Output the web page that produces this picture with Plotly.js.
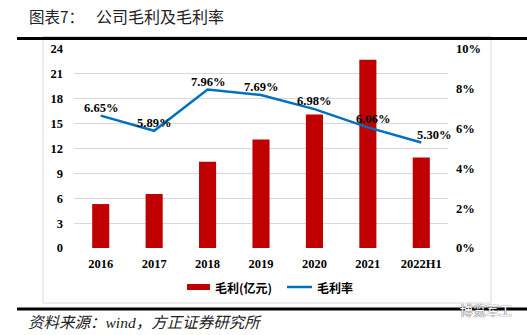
<!DOCTYPE html>
<html>
<head>
<meta charset="utf-8">
<script src="https://cdn.plot.ly/plotly-3.0.1.min.js"></script>
<style>html,body{margin:0;padding:0;background:#fff;}#chart{width:527px;height:335px;}</style>
</head>
<body>
<div id="chart"></div>
<script>
const categories = ["2016", "2017", "2018", "2019", "2020", "2021", "2022H1"];
const grossProfit = [5.3, 6.5, 10.4, 13.1, 16.1, 22.7, 10.9];
const grossMargin = [0.0665, 0.0589, 0.0796, 0.0769, 0.0698, 0.0606, 0.0530];
const marginLabels = ["6.65%", "5.89%", "7.96%", "7.69%", "6.98%", "6.06%", "5.30%"];
const seriesNames = ["毛利(亿元)", "毛利率"];
const titleText = "图表7：";
const titleText2 = "公司毛利及毛利率";
const sourceText = "资料来源：wind，方正证券研究所";
const watermark = "博览军工";

const W = 527, H = 335;
const L = 74, R = 79, T = 49, B = 87;
const pw = W - L - R, ph = H - T - B;
const px = x => (x - L) / pw;
const py = y => (H - B - y) / ph;

const serif = "Liberation Serif, Times New Roman, Noto Sans CJK SC, serif";
const cjk = "Noto Sans CJK SC, sans-serif";

const traces = [
  {type: "bar", x: categories, y: grossProfit, name: seriesNames[0],
   marker: {color: "#C00000"}, yaxis: "y", showlegend: false, hoverinfo: "skip"},
  {type: "scatter", mode: "lines", x: categories, y: grossMargin, name: seriesNames[1],
   line: {color: "#0070C0", width: 2.5}, yaxis: "y2", showlegend: false, hoverinfo: "skip"}
];

// category axis: annotations placed by category index
const annotations = marginLabels.map((t, i) => ({
  x: i, y: grossMargin[i], xref: "x", yref: "y2", text: t, showarrow: false,
  yshift: 8, xshift: i === categories.length - 1 ? 13 : (i === 5 ? 5 : 0),
  font: {family: serif, size: 12.5, color: "#000", weight: "bold"}
}));

annotations.push(
  {xref: "paper", yref: "paper", x: px(27), y: py(16), xanchor: "left", yanchor: "middle",
   text: titleText, showarrow: false, font: {family: cjk, size: 15.5, color: "#222"}},
  {xref: "paper", yref: "paper", x: px(94), y: py(16), xanchor: "left", yanchor: "middle",
   text: titleText2, showarrow: false, font: {family: cjk, size: 16, color: "#222"}},
  {xref: "paper", yref: "paper", x: px(26), y: py(322), xanchor: "left", yanchor: "middle",
   text: sourceText, showarrow: false, font: {family: serif, size: 15.5, color: "#222", style: "italic"}},
  {xref: "paper", yref: "paper", x: px(458), y: py(309), xanchor: "left", yanchor: "middle",
   text: watermark, showarrow: false, font: {family: cjk, size: 13, color: "#fff", shadow: "0 0 1px #444, 0 0 1px #444"}},
  {xref: "paper", yref: "paper", x: px(213), y: py(287), xanchor: "left", yanchor: "middle",
   text: seriesNames[0], showarrow: false, font: {family: cjk, size: 12, color: "#000", weight: "bold"}},
  {xref: "paper", yref: "paper", x: px(315), y: py(287), xanchor: "left", yanchor: "middle",
   text: seriesNames[1], showarrow: false, font: {family: cjk, size: 12, color: "#000", weight: "bold"}}
);

const shapes = [
  {type: "rect", xref: "paper", yref: "paper", x0: px(43), x1: px(491), y0: py(36.5), y1: py(303),
   line: {color: "#d9d9d9", width: 1}, fillcolor: "rgba(0,0,0,0)", layer: "below"},
  {type: "line", xref: "paper", yref: "paper", x0: px(17), x1: px(527), y0: py(38.5), y1: py(38.5),
   line: {color: "#000", width: 3}},
  {type: "line", xref: "paper", yref: "paper", x0: px(17), x1: px(527), y0: py(309), y1: py(309),
   line: {color: "#000", width: 3}, layer: "below"},
  {type: "rect", xref: "paper", yref: "paper", x0: px(187), x1: px(210), y0: py(284), y1: py(290),
   line: {width: 0}, fillcolor: "#C00000"},
  {type: "line", xref: "paper", yref: "paper", x0: px(287), x1: px(312), y0: py(287), y1: py(287),
   line: {color: "#0070C0", width: 2.5}}
];

const tickFont = {family: serif, size: 12.5, color: "#000", weight: "bold"};

const layout = {
  width: W, height: H,
  margin: {l: L, r: R, t: T, b: B, pad: 0},
  paper_bgcolor: "#fff", plot_bgcolor: "#fff",
  bargap: 0.68,
  showlegend: false,
  xaxis: {type: "category", range: [-0.5, categories.length - 0.5], tickfont: tickFont,
          showgrid: false, zeroline: false, showline: false, ticks: "", ticklabelstandoff: 6},
  yaxis: {range: [0, 24], dtick: 3, tickfont: tickFont, gridcolor: "#d9d9d9", gridwidth: 1,
          zeroline: false, showline: false, ticks: "", ticklabelstandoff: 10},
  yaxis2: {range: [0, 0.10], dtick: 0.02, tickformat: ".0%", overlaying: "y", side: "right",
           tickfont: tickFont, showgrid: false, zeroline: false, showline: false, ticks: "",
           ticklabelstandoff: 7},
  annotations: annotations,
  shapes: shapes
};

Plotly.newPlot("chart", traces, layout, {staticPlot: true, displayModeBar: false});
</script>
</body>
</html>
